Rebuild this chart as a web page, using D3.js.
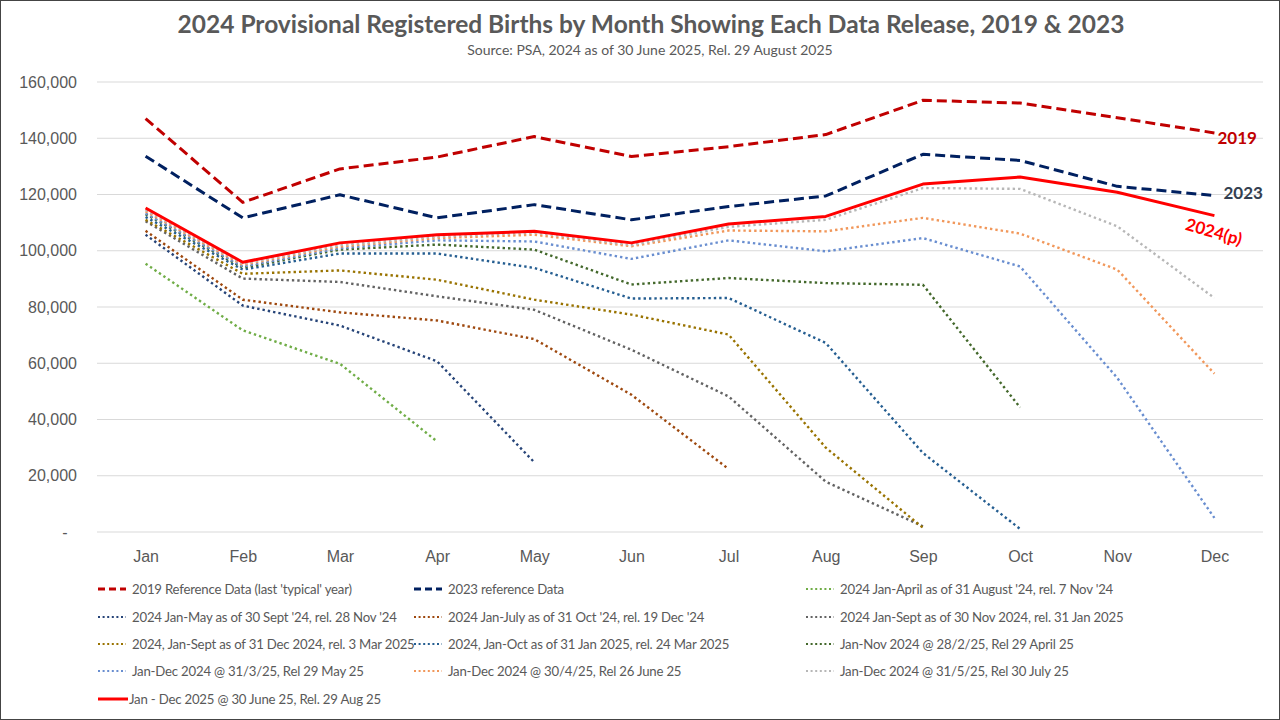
<!DOCTYPE html>
<html>
<head>
<meta charset="utf-8">
<script src="https://cdn.jsdelivr.net/npm/d3@7"></script>
<style>
  body { margin: 0; background: #fff; }
  svg { display: block; font-family: Lato, "Open Sans", sans-serif; }
</style>
</head>
<body>
<div id="chart"></div>
<script>
// months + tick values
const months = ["Jan", "Feb", "Mar", "Apr", "May", "Jun", "Jul", "Aug", "Sep", "Oct", "Nov", "Dec"];
const yTicks = [0, 20000, 40000, 60000, 80000, 100000, 120000, 140000, 160000];

// series values (null = not released)
const ref2019 = [147000, 117200, 129100, 133300, 140600, 133500, 137000, 141300, 153500, 152500, 147300, 141900];
const ref2023 = [133600, 111700, 119900, 111700, 116400, 111000, 115700, 119500, 134300, 132100, 122900, 119600];
const relNov24 = [95400, 71700, 59800, 32200, null, null, null, null, null, null, null, null];
const relNov28 = [105700, 80500, 73400, 60700, 24800, null, null, null, null, null, null, null];
const relDec19 = [107100, 82600, 78100, 75200, 68600, 48800, 22400, null, null, null, null, null];
const relJan31 = [110500, 90100, 88900, 83800, 79000, 64800, 48200, 17900, 2000, null, null, null];
const relMar3 = [111000, 91800, 93000, 89700, 82600, 77300, 70200, 30000, 1500, null, null, null];
const relMar24 = [112000, 93300, 99000, 99000, 93900, 83000, 83200, 67200, 28100, 1100, null, null];
const relApr29 = [113000, 94000, 100400, 102200, 100400, 88000, 90300, 88500, 87900, 44300, null, null];
const relMay29 = [113300, 94400, 100900, 103700, 103300, 97100, 103700, 99800, 104500, 94400, 54800, 5000];
const relJun26 = [114000, 95000, 101500, 104500, 105700, 101600, 107200, 106900, 111700, 106100, 93300, 56300];
const relJul30 = [114500, 95400, 102000, 105000, 106500, 102000, 108500, 111000, 122300, 122000, 108700, 83200];
const relAug29 = [115200, 95900, 102800, 105700, 106900, 102800, 109500, 112200, 123700, 126200, 120800, 112500];

const seriesNames = [
  "2019  Reference Data (last 'typical' year)",
  "2023 reference Data",
  "2024 Jan-April as of 31 August '24, rel. 7 Nov '24",
  "2024 Jan-May as of 30 Sept '24, rel. 28 Nov '24",
  "2024 Jan-July as of 31 Oct '24, rel. 19 Dec '24",
  "2024 Jan-Sept as of 30 Nov 2024, rel. 31 Jan 2025",
  "2024, Jan-Sept as of 31 Dec 2024, rel. 3 Mar 2025",
  "2024, Jan-Oct as of 31 Jan 2025, rel. 24 Mar 2025",
  "Jan-Nov 2024 @ 28/2/25, Rel 29 April 25",
  "Jan-Dec 2024 @ 31/3/25, Rel 29 May 25",
  "Jan-Dec 2024 @ 30/4/25, Rel 26 June 25",
  "Jan-Dec 2024 @ 31/5/25, Rel 30 July 25",
  "Jan - Dec 2025 @ 30 June 25, Rel. 29 Aug 25"
];
const seriesValues = [ref2019, ref2023, relNov24, relNov28, relDec19, relJan31, relMar3, relMar24, relApr29, relMay29, relJun26, relJul30, relAug29];
const seriesColors = ["#C00000", "#002060", "#70AD47", "#264478", "#9E480E", "#636363", "#997300", "#255E91", "#43682B", "#698ED0", "#F1975A", "#B7B7B7", "#FF0000"];
const seriesKinds = ["dash", "dash", "dot", "dot", "dot", "dot", "dot", "dot", "dot", "dot", "dot", "dot", "solid"];

const width = 1280;
const height = 720;
const margin = { top: 82, right: 17, bottom: 188, left: 97 };

const svg = d3.select("#chart")
  .append("svg")
  .attr("width", width)
  .attr("height", height);

svg.append("rect")
  .attr("x", 0.5).attr("y", 0.5)
  .attr("width", width - 1).attr("height", height - 1)
  .attr("fill", "#fff")
  .attr("stroke", "#444");

const x = d3.scalePoint()
  .domain(months)
  .range([margin.left, width - margin.right])
  .padding(0.5);

const y = d3.scaleLinear()
  .domain([0, 160000])
  .range([height - margin.bottom, margin.top]);

// gridlines
svg.append("g")
  .selectAll("line")
  .data(yTicks)
  .enter()
  .append("line")
  .attr("x1", margin.left)
  .attr("x2", width - margin.right)
  .attr("y1", d => y(d))
  .attr("y2", d => y(d))
  .attr("stroke", "#D9D9D9")
  .attr("stroke-width", 1);

// y axis
const yAxis = d3.axisLeft(y)
  .tickValues(yTicks)
  .tickFormat(d => d === 0 ? "-" : d3.format(",")(d))
  .tickSize(0)
  .tickPadding(20);

svg.append("g")
  .attr("transform", `translate(${margin.left},0)`)
  .call(yAxis)
  .selectAll("text")
  .attr("fill", "#595959")
  .style("font-size", "16px")
  .attr("text-anchor", d => d === 0 ? "middle" : "end")
  .attr("dx", d => d === 0 ? "-12" : "0");

// x axis
svg.append("g")
  .attr("transform", `translate(0,${height - margin.bottom})`)
  .call(d3.axisBottom(x).tickSize(0).tickPadding(19))
  .selectAll("text")
  .attr("fill", "#595959")
  .style("font-size", "16px");

svg.selectAll(".domain").attr("stroke", "none");

function dashFor(kind) {
  if (kind === "dash") return "10,5";
  if (kind === "dot") return "2.4,3";
  return null;
}

const line = d3.line()
  .defined(d => d != null)
  .x((d, i) => x(months[i]))
  .y(d => y(d));

// draw dotted first, then the references and the final one on top
const drawOrder = [2, 3, 4, 5, 6, 7, 8, 9, 10, 11, 0, 1, 12];
drawOrder.forEach(k => {
  svg.append("path")
    .datum(seriesValues[k])
    .attr("d", line)
    .attr("fill", "none")
    .attr("stroke", seriesColors[k])
    .attr("stroke-width", seriesKinds[k] === "dot" ? 2.4 : 3)
    .attr("stroke-dasharray", dashFor(seriesKinds[k]))
    .attr("stroke-linejoin", "round");
});

// end labels
const lastX = x("Dec");
svg.append("text")
  .attr("x", lastX + 3).attr("y", y(ref2019[11]) + 11)
  .attr("fill", "#C00000")
  .style("font-size", "17px").style("font-weight", "bold")
  .text("2019");
svg.append("text")
  .attr("x", lastX + 9).attr("y", y(ref2023[11]) + 3)
  .attr("fill", "#333F50")
  .style("font-size", "17px").style("font-weight", "bold")
  .text("2023");
svg.append("text")
  .attr("transform", `translate(${lastX - 30},${y(relAug29[11]) + 14}) rotate(16)`)
  .attr("fill", "#FF0000")
  .style("font-size", "17px").style("font-weight", "bold")
  .text("2024(p)");

// titles
svg.append("text")
  .attr("x", 651).attr("y", 33)
  .attr("text-anchor", "middle")
  .attr("fill", "#595959")
  .style("font-size", "24.5px").style("font-weight", "bold")
  .text("2024 Provisional Registered Births by Month Showing Each Data Release, 2019 & 2023");
svg.append("text")
  .attr("x", 650).attr("y", 55)
  .attr("text-anchor", "middle")
  .attr("fill", "#595959")
  .style("font-size", "14px")
  .text("Source: PSA, 2024 as of 30 June 2025, Rel. 29 August 2025");

// legend, 3 columns
const legendCols = [98, 414, 806];
const legendRows = [589, 617, 644, 671, 699];
const legend = svg.append("g")
  .selectAll("g")
  .data(seriesNames)
  .enter()
  .append("g")
  .attr("transform", (d, i) => `translate(${legendCols[i % 3]},${legendRows[Math.floor(i / 3)]})`);

legend.append("line")
  .attr("x1", 0).attr("x2", (d, i) => seriesKinds[i] === "solid" ? 30 : 28)
  .attr("y1", 0).attr("y2", 0)
  .attr("stroke", (d, i) => seriesColors[i])
  .attr("stroke-width", (d, i) => seriesKinds[i] === "dot" ? 2.2 : 3)
  .attr("stroke-dasharray", (d, i) => seriesKinds[i] === "dash" ? "7,4" : seriesKinds[i] === "dot" ? "2,2.6" : null);

legend.append("text")
  .attr("x", (d, i) => seriesKinds[i] === "solid" ? 31 : 34)
  .attr("y", 5)
  .attr("fill", "#595959")
  .style("font-size", "13.2px")
  .style("letter-spacing", "-0.2px")
  .text(d => d);
</script>
</body>
</html>
